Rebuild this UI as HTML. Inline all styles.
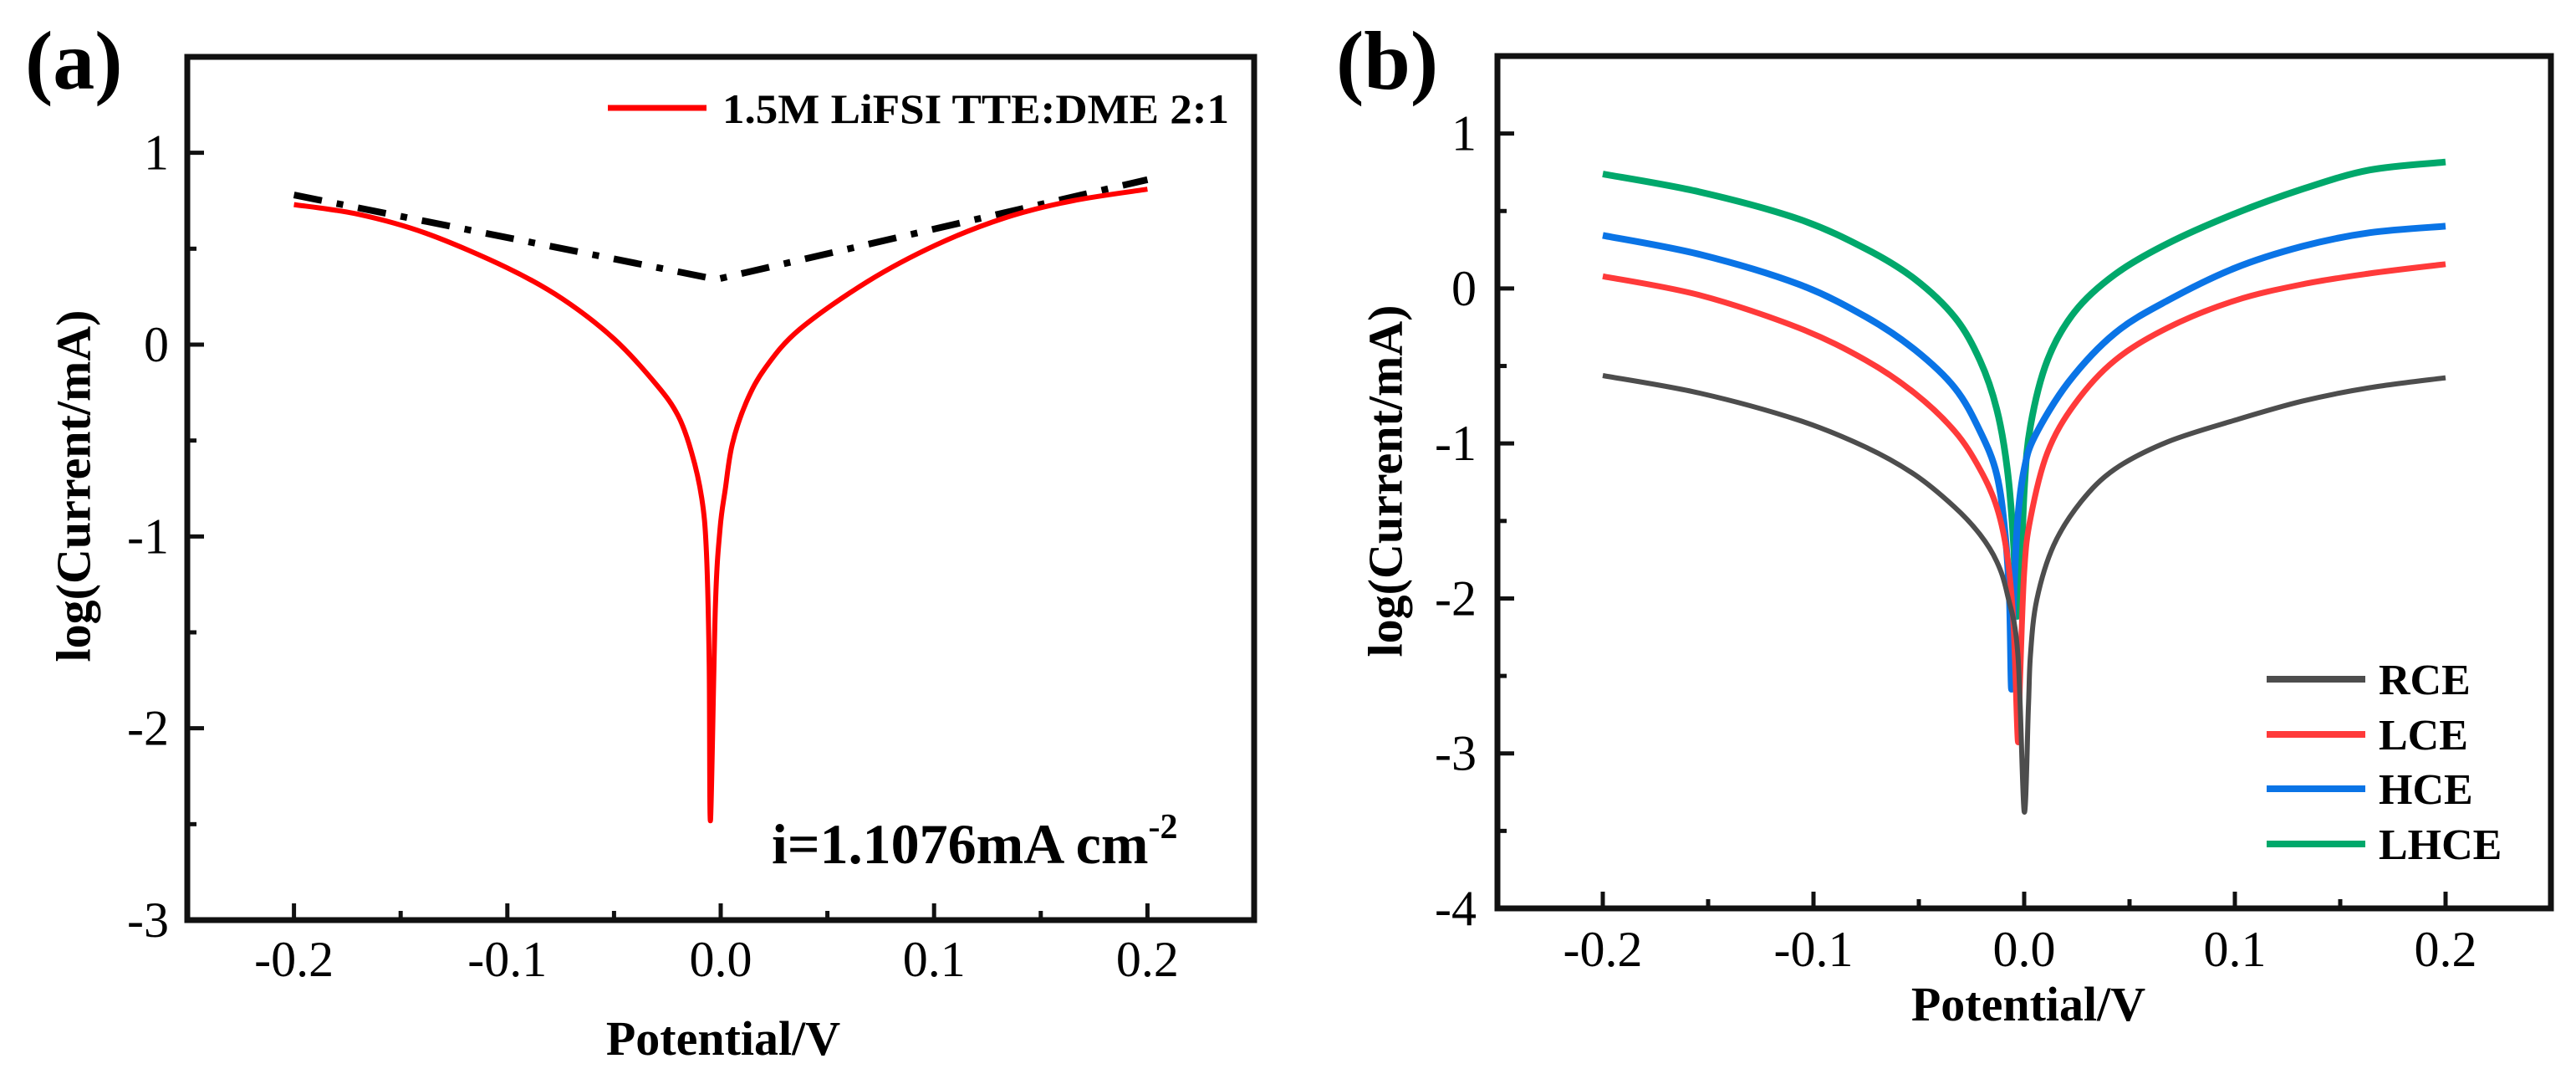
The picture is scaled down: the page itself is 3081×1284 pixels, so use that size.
<!DOCTYPE html>
<html><head><meta charset="utf-8"><style>
html,body{margin:0;padding:0;background:#fff;}
svg{display:block;font-family:"Liberation Serif",serif;}
</style></head><body>
<svg id="fig" width="3081" height="1284" viewBox="0 0 3081 1284" xmlns="http://www.w3.org/2000/svg">
<text x="30" y="106" font-size="100" font-weight="bold">(a)</text>
<text x="1598" y="106" font-size="100" font-weight="bold">(b)</text>
<g id="pa"></g>
<g id="pb"></g>
</svg>
<script>
// Panel (a) data
const aTicksX = [-0.2, -0.1, 0.0, 0.1, 0.2];
const aTickLabelsX = ["-0.2", "-0.1", "0.0", "0.1", "0.2"];
const aTicksY = [1, 0, -1, -2, -3];
const aTickLabelsY = ["1", "0", "-1", "-2", "-3"];
const aRedX = [-0.2,-0.17,-0.138,-0.1,-0.074,-0.05,-0.03,-0.02,-0.0137,-0.0089,-0.0067,-0.0054,-0.0048,-0.0025,-0.0003,0.0022,0.0054,0.012,0.021,0.037,0.069,0.101,0.133,0.165,0.2];
const aRedY = [0.73,0.68,0.58,0.40,0.237,0.03,-0.21,-0.37,-0.56,-0.80,-1.08,-1.66,-2.48,-1.37,-0.96,-0.75,-0.52,-0.30,-0.12,0.08,0.33,0.52,0.66,0.75,0.81];
const aFitX = [-0.2, -0.002, 0.2];
const aFitY = [0.78, 0.34, 0.86];

// Panel (b) data
const bTicksX = [-0.2, -0.1, 0.0, 0.1, 0.2];
const bTickLabelsX = ["-0.2", "-0.1", "0.0", "0.1", "0.2"];
const bTicksY = [1, 0, -1, -2, -3, -4];
const bTickLabelsY = ["1", "0", "-1", "-2", "-3", "-4"];
const bSeriesNames = ["RCE", "LCE", "HCE", "LHCE"];
const rceX = [-0.2,-0.154,-0.107,-0.075,-0.052,-0.033,-0.021,-0.013,-0.008,-0.003,0.0,0.002,0.003,0.006,0.014,0.027,0.043,0.068,0.1,0.132,0.164,0.2];
const rceY = [-0.562,-0.675,-0.85,-1.025,-1.201,-1.411,-1.587,-1.762,-1.972,-2.358,-3.375,-2.709,-2.358,-2.008,-1.657,-1.376,-1.166,-0.99,-0.85,-0.727,-0.64,-0.576];
const lceX = [-0.2,-0.154,-0.107,-0.075,-0.052,-0.033,-0.021,-0.013,-0.008,-0.005,-0.003,-0.002,0.0,0.003,0.011,0.024,0.043,0.068,0.1,0.132,0.164,0.2];
const lceY = [0.079,-0.043,-0.254,-0.464,-0.675,-0.92,-1.166,-1.411,-1.727,-2.183,-2.92,-2.534,-1.832,-1.481,-1.06,-0.745,-0.464,-0.254,-0.078,0.027,0.097,0.157];
const hceX = [-0.2,-0.154,-0.107,-0.075,-0.052,-0.033,-0.021,-0.013,-0.009,-0.007,-0.006,-0.005,-0.003,0.0,0.005,0.021,0.043,0.068,0.1,0.132,0.164,0.2];
const hceY = [0.343,0.22,0.027,-0.184,-0.394,-0.64,-0.92,-1.201,-1.587,-2.008,-2.586,-2.008,-1.481,-1.166,-0.955,-0.605,-0.289,-0.078,0.132,0.272,0.36,0.402];
const lhceX = [-0.2,-0.154,-0.107,-0.075,-0.052,-0.033,-0.021,-0.013,-0.008,-0.005,-0.004,-0.002,0.0,0.003,0.011,0.024,0.043,0.068,0.1,0.132,0.164,0.2];
const lhceY = [0.739,0.623,0.448,0.255,0.062,-0.184,-0.464,-0.78,-1.166,-1.657,-2.078,-2.008,-1.306,-0.885,-0.464,-0.15,0.09,0.29,0.483,0.641,0.765,0.816];

const NS = "http://www.w3.org/2000/svg";
function mk(parent, tag, attrs, txt) {
  const e = document.createElementNS(NS, tag);
  for (const k in attrs) e.setAttribute(k, attrs[k]);
  if (txt !== undefined) e.textContent = txt;
  parent.appendChild(e);
  return e;
}

function drawAxes(g, P, ticksX, labsX, ticksY, labsY, xBase, yLabEnd, prefix) {
  const sx = v => P.x0 + (v - P.xmin) / (P.xmax - P.xmin) * (P.x1 - P.x0);
  const sy = v => P.y1 - (v - P.ymin) / (P.ymax - P.ymin) * (P.y1 - P.y0);
  const frame = mk(g, "rect", {x: P.x0, y: P.y0, width: P.x1 - P.x0, height: P.y1 - P.y0, fill: "none", stroke: "#111", "stroke-width": 7});
  
  
  ticksX.forEach((v, i) => {
    const t = mk(g, "line", {x1: sx(v), x2: sx(v), y1: P.y1, y2: P.y1 - 20, stroke: "#111", "stroke-width": 5});
    
    
    if (i < ticksX.length - 1) {
      const m = mk(g, "line", {x1: sx(v + 0.05), x2: sx(v + 0.05), y1: P.y1, y2: P.y1 - 11, stroke: "#111", "stroke-width": 5});
      
      
    }
    const l = mk(g, "text", {x: sx(v), y: xBase, "font-size": 60, "text-anchor": "middle"}, labsX[i]);
    
    
  });
  ticksY.forEach((v, i) => {
    const t = mk(g, "line", {x1: P.x0, x2: P.x0 + 20, y1: sy(v), y2: sy(v), stroke: "#111", "stroke-width": 5});
    
    
    if (v + 0.5 < P.ymax) {
      const m = mk(g, "line", {x1: P.x0, x2: P.x0 + 11, y1: sy(v + 0.5), y2: sy(v + 0.5), stroke: "#111", "stroke-width": 5});
      
      
    }
    const l = mk(g, "text", {x: yLabEnd, y: sy(v) + 20, "font-size": 60, "text-anchor": "end"}, labsY[i]);
    
    
  });
  return {sx, sy};
}

function pathD(xs, ys, sx, sy) {
  return xs.map((v, i) => (i ? "L" : "M") + sx(v).toFixed(1) + "," + sy(ys[i]).toFixed(1)).join(" ");
}
// smooth Catmull-Rom rendering through the data points
function smoothD(xs, ys, sx, sy) {
  const p = xs.map((v, i) => [sx(v), sy(ys[i])]);
  let d = "M" + p[0][0].toFixed(1) + "," + p[0][1].toFixed(1);
  for (let i = 0; i < p.length - 1; i++) {
    const p0 = p[i - 1] || p[i], p1 = p[i], p2 = p[i + 1], p3 = p[i + 2] || p[i + 1];
    const c1 = [p1[0] + (p2[0] - p0[0]) / 6, p1[1] + (p2[1] - p0[1]) / 6];
    const c2 = [p2[0] - (p3[0] - p1[0]) / 6, p2[1] - (p3[1] - p1[1]) / 6];
    d += " C" + c1[0].toFixed(1) + "," + c1[1].toFixed(1) + " " + c2[0].toFixed(1) + "," + c2[1].toFixed(1) + " " + p2[0].toFixed(1) + "," + p2[1].toFixed(1);
  }
  return d;
}

// Panel (a)
const ga = document.getElementById("pa");
const PA = {x0: 224, x1: 1500, y0: 68, y1: 1100, xmin: -0.25, xmax: 0.25, ymin: -3, ymax: 1.5};
const A = drawAxes(ga, PA, aTicksX, aTickLabelsX, aTicksY, aTickLabelsY, 1167, 202, "a");
const fitLine = mk(ga, "path", {d: pathD(aFitX, aFitY, A.sx, A.sy), fill: "none", stroke: "#000", "stroke-width": 8, "stroke-dasharray": "34 18 8 18"});


const redLine = mk(ga, "path", {d: smoothD(aRedX, aRedY, A.sx, A.sy), fill: "none", stroke: "#ff0000", "stroke-width": 6, "stroke-linejoin": "round"});


const lgA = mk(ga, "line", {x1: 727, x2: 845, y1: 129, y2: 129, stroke: "#ff0000", "stroke-width": 7});


const lgAt = mk(ga, "text", {x: 864, y: 147, "font-size": 50, "font-weight": "bold", textLength: 606, lengthAdjust: "spacingAndGlyphs"}, "1.5M LiFSI TTE:DME 2:1");


const ann = mk(ga, "text", {x: 923, y: 1032, "font-size": 68, "font-weight": "bold"});


mk(ann, "tspan", {}, "i=1.1076mA cm");
mk(ann, "tspan", {"font-size": 42, dy: -30}, "-2");
const xta = mk(ga, "text", {x: 865, y: 1261, "font-size": 58, "font-weight": "bold", "text-anchor": "middle"}, "Potential/V");


const yta = mk(ga, "text", {x: 0, y: 0, "font-size": 58, "font-weight": "bold", "text-anchor": "middle", "dominant-baseline": "central", transform: "translate(88,581) rotate(-90)"}, "log(Current/mA)");



// Panel (b)
const gb = document.getElementById("pb");
const PB = {x0: 1791, x1: 3051, y0: 67, y1: 1086, xmin: -0.25, xmax: 0.25, ymin: -4, ymax: 1.5};
const B = drawAxes(gb, PB, bTicksX, bTickLabelsX, bTicksY, bTickLabelsY, 1155, 1766, "b");
const bX = [rceX, lceX, hceX, lhceX];
const bY = [rceY, lceY, hceY, lhceY];
const bColors = ["#4d4d4d", "#ff3a3a", "#0a74e6", "#00a86b"];
const bWidths = [6, 7, 8, 8];
const legY = [812, 878, 943, 1009];
for (let i = 3; i >= 0; i--) {
  const p = mk(gb, "path", {d: smoothD(bX[i], bY[i], B.sx, B.sy), fill: "none", stroke: bColors[i], "stroke-width": bWidths[i], "stroke-linejoin": "round"});
  
  
}
bSeriesNames.forEach((n, i) => {
  const s = mk(gb, "line", {x1: 2711, x2: 2829, y1: legY[i], y2: legY[i], stroke: bColors[i], "stroke-width": 8});
  
  
  const t = mk(gb, "text", {x: 2845, y: legY[i] + 18, "font-size": 52, "font-weight": "bold"}, n);
  
  
});
const xtb = mk(gb, "text", {x: 2426, y: 1220, "font-size": 58, "font-weight": "bold", "text-anchor": "middle"}, "Potential/V");


const ytb = mk(gb, "text", {x: 0, y: 0, "font-size": 58, "font-weight": "bold", "text-anchor": "middle", "dominant-baseline": "central", transform: "translate(1657,575) rotate(-90)"}, "log(Current/mA)");


</script>
</body></html>
